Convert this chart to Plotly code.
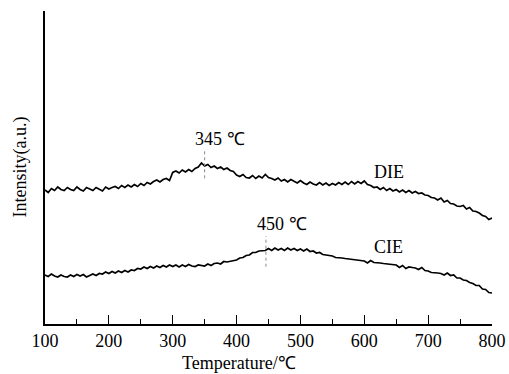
import plotly.graph_objects as go

# ---- data ----
temperature = list(range(100, 801, 5))

die_intensity = [
    134, 131.5, 135.5, 133.5, 137, 134.5, 133.5, 136.5, 134.5, 133.5,
    137, 134.5, 133, 136.5, 135, 133.5, 136.5, 134.5, 133, 137,
    135, 136.5, 137.5, 135.5, 138.5, 136.5, 139, 137, 139.5, 137.5,
    140.5, 138.5, 141.5, 140, 142.5, 144, 142, 144.5, 145.5, 143.5,
    151.5, 153, 151, 154, 152, 154.5, 152.5, 155.5, 157, 161,
    158, 159.5, 156.5, 158, 155.5, 157, 154.5, 156, 153.5, 152.5,
    149, 147.5, 149.5, 146.5, 146, 148.5, 145.5, 148, 146, 149.5,
    146.5, 145.5, 144, 146, 143, 144.5, 142, 144.5, 142.5, 141,
    143.5, 141, 139.5, 142, 140, 139, 141.5, 139, 141, 138.5,
    140.5, 139, 141.5, 139.5, 142, 139.5, 142.5, 140, 142.5, 140.5,
    143, 139.5, 138.5, 136.5, 137, 134.5, 136.5, 133.5, 135.5, 133,
    134.5, 132, 134, 131.5, 133.5, 131, 132.5, 130.5, 131, 129,
    128.5, 126.5, 126, 124, 126, 122, 123.5, 120.5, 120, 118,
    117.5, 118.5, 115, 116.5, 113, 112.5, 111, 108.5, 107.5, 104.5,
    106,
]

cie_intensity = [
    49, 47.5, 50, 48, 47, 49, 47.5, 47, 49, 47.5,
    49.5, 48, 49.5, 47, 48.5, 50, 48.5, 50.5, 50, 52,
    50.5, 52.5, 51, 53, 51.5, 53.5, 52, 54, 53.5, 55.5,
    55, 57, 55.5, 57.5, 56, 58, 56.5, 58.5, 57, 59,
    57.5, 59, 57, 59, 57.5, 59.5, 58, 57.5, 59, 58.5,
    58, 60, 58.5, 60.5, 61, 60, 62.5, 62, 62.5, 63,
    64, 66, 66.5, 68.5, 69, 71.5, 71.5, 73, 73, 73.5,
    75.5, 73.5, 76, 74, 75.5, 73.5, 76, 74, 75.5, 73.5,
    75, 73, 75, 72.5, 73, 71, 71.5, 69.5, 69, 68.5,
    68, 66.5, 66.5, 66, 65.5, 65, 64.5, 64, 63.5, 63.5,
    63, 61, 63.5, 61.5, 61.5, 61, 60.5, 60, 59.5, 59.5,
    59, 56.5, 58.5, 55.5, 57, 56.5, 56, 54.5, 56.5, 53.5,
    53, 51.5, 51.5, 51, 50.5, 49, 51, 48.5, 49, 46,
    46, 44, 43.5, 41.5, 40.5, 38.5, 38.5, 35, 34.5, 31.5,
    31,
]

assert len(die_intensity) == len(temperature)
assert len(cie_intensity) == len(temperature)

series_names = ["DIE", "CIE"]
label_x = [638, 638]
label_y = [151.7, 76.7]

peak_labels = ["345 ℃", "450 ℃"]
peak_label_x = [374, 471]
peak_label_y = [185, 100]
peak_line_x = [350, 446]
peak_line_y0 = [145.7, 57.3]
peak_line_y1 = [173.3, 88]

x_ticks = [100, 200, 300, 400, 500, 600, 700, 800]

FONT = "'Liberation Serif', 'Times New Roman', serif"

fig = go.Figure()
for name, vals in zip(series_names, [die_intensity, cie_intensity]):
    fig.add_trace(go.Scatter(
        x=temperature, y=vals, mode="lines", name=name,
        line=dict(color="black", width=1.7),
        showlegend=False,
    ))

for name, lx, ly in zip(series_names, label_x, label_y):
    fig.add_annotation(x=lx, y=ly, text=name, showarrow=False,
                       xanchor="center", yanchor="middle",
                       font=dict(family=FONT, size=18, color="black"))

for txt, lx, ly in zip(peak_labels, peak_label_x, peak_label_y):
    fig.add_annotation(x=lx, y=ly, text=txt, showarrow=False,
                       xanchor="center", yanchor="middle",
                       font=dict(family=FONT, size=18, color="black"))

for px, y0, y1 in zip(peak_line_x, peak_line_y0, peak_line_y1):
    fig.add_shape(type="line", x0=px, x1=px, y0=y0, y1=y1,
                  line=dict(color="#888888", width=1, dash="dot"))

# axis titles
fig.add_annotation(xref="paper", yref="paper", x=-0.054, y=0.503,
                   text="Intensity(a.u.)", textangle=-90, showarrow=False,
                   xanchor="center", yanchor="middle",
                   font=dict(family=FONT, size=18, color="black"))
fig.add_annotation(xref="paper", yref="paper", x=0.435, y=-0.124,
                   text="Temperature/℃", showarrow=False,
                   xanchor="center", yanchor="middle",
                   font=dict(family=FONT, size=18, color="black"))

fig.update_layout(
    width=509, height=374,
    margin=dict(l=45, r=17, t=11, b=50),
    paper_bgcolor="white", plot_bgcolor="white",
    font=dict(family=FONT, size=18, color="black"),
    xaxis=dict(
        range=[100, 800], tickvals=x_ticks, ticks="inside", ticklen=9,
        tickwidth=1.3, tickcolor="black", automargin=False,
        showline=True, linecolor="black", linewidth=1.5,
        showgrid=False, zeroline=False,
        minor=dict(ticks="inside", ticklen=5, dtick=50, tick0=100,
                   tickcolor="black", tickwidth=1.3, showgrid=False),
        tickfont=dict(family=FONT, size=18, color="black"),
    ),
    yaxis=dict(
        range=[0, 313], tickvals=[313], ticks="inside", ticklen=12,
        tickwidth=1.5, tickcolor="black", showticklabels=False,
        automargin=False,
        showline=True, linecolor="black", linewidth=1.5,
        showgrid=False, zeroline=False,
    ),
)

fig.write_html(
    "out.html",
    config={"displayModeBar": False},
    post_script="document.body.style.margin='0';document.body.style.overflow='hidden';",
)
